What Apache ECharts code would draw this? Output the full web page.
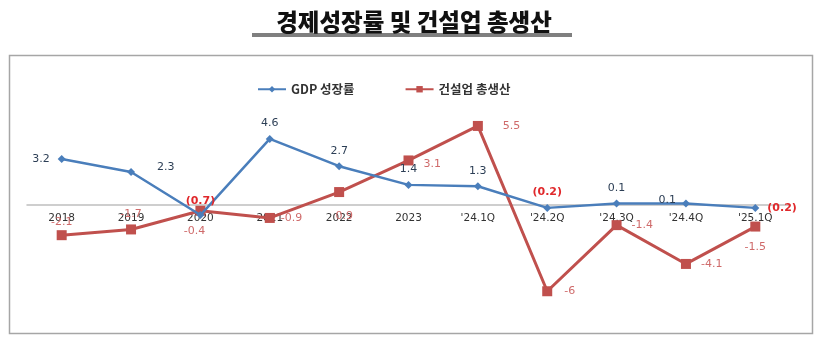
<!DOCTYPE html>
<html><head><meta charset="utf-8">
<script src="https://cdn.jsdelivr.net/npm/echarts@6/dist/echarts.min.js"></script>
<style>html,body{margin:0;padding:0;background:#fff}#c{width:828px;height:338px}</style>
</head><body><div id="c"></div>
<script>
const categories = ['2018','2019','2020','2021','2022','2023',"'24.1Q","'24.2Q","'24.3Q","'24.4Q","'25.1Q"];
const gdpGrowth = [3.2, 2.3, -0.7, 4.6, 2.7, 1.4, 1.3, -0.2, 0.1, 0.1, -0.2];
const construction = [-2.1, -1.7, -0.4, -0.9, 0.9, 3.1, 5.5, -6, -1.4, -4.1, -1.5];
const seriesNames = ['GDP 성장률', '건설업 총생산'];
const titleText = '경제성장률 및 건설업 총생산';

const KR = '"Noto Sans CJK KR", "Noto Sans", sans-serif';
const gdpLabelPlace = [
  {position:'left', distance:8},
  {position:'right', distance:22, offset:[0,-5]},
  {position:'top', distance:4},
  {position:'top', distance:6},
  {position:'top', distance:6},
  {position:'top', distance:6},
  {position:'top', distance:6},
  {position:'top', distance:6},
  {position:'top', distance:6},
  {position:'left', distance:6, offset:[0,-3]},
  {position:'right', distance:8}
];
const conLabelPlace = [
  {position:'top', distance:3},
  {position:'top', distance:5},
  {position:'bottom', distance:10, offset:[-6,0]},
  {position:'right', distance:6},
  {position:'bottom', distance:14, offset:[5,0]},
  {position:'right', distance:10, offset:[0,4]},
  {position:'right', distance:20},
  {position:'right', distance:12},
  {position:'right', distance:10},
  {position:'right', distance:10},
  {position:'bottom', distance:10}
];
const gdpData = gdpGrowth.map((v,i) => {
  const neg = v < 0;
  return {value: v, label: Object.assign({
    formatter: neg ? '(' + Math.abs(v).toFixed(1) + ')' : String(v),
    color: neg ? '#E0282B' : '#2C3E55',
    fontWeight: neg ? 'bold' : 'normal'
  }, gdpLabelPlace[i])};
});
const conData = construction.map((v,i) => ({value: v, label: Object.assign({}, conLabelPlace[i])}));

const chart = echarts.init(document.getElementById('c'));
chart.setOption({
  animation: false,
  title: {text: titleText, left: 'center', top: 5,
    textStyle: {fontFamily: KR, fontSize: 23.5, fontWeight: 900, color: '#111'}},
  graphic: [
    {type:'rect', shape:{x:252, y:33, width:320, height:4}, style:{fill:'#7F7F7F'}, silent:true},
    {type:'rect', shape:{x:9.5, y:55.5, width:803, height:278}, style:{fill:'none', stroke:'#A6A6A6', lineWidth:1.5}, silent:true}
  ],
  legend: {
    top: 78, left: 252, itemGap: 50, itemWidth: 28, itemHeight: 8,
    textStyle: {fontFamily: KR, fontSize: 12.5, fontWeight: 'bold', color: '#333'},
    data: seriesNames
  },
  grid: {left: 27, right: 38, top: 90, height: 230},
  xAxis: {
    type: 'category', data: categories, boundaryGap: true,
    offset: -115,
    axisLine: {show: true, onZero: false, lineStyle: {color: '#BFBFBF', width: 1.5}},
    axisTick: {show: false},
    axisLabel: {fontFamily: '"DejaVu Sans", sans-serif', fontSize: 10.5, color: '#333', margin: 8}
  },
  yAxis: {type: 'value', min: -8, max: 8, show: false, splitLine: {show: false}},
  series: [
    {name: seriesNames[0], type: 'line', data: gdpData, z: 3,
      symbol: 'diamond', symbolSize: 8,
      lineStyle: {color: '#4A7EBB', width: 2.5}, itemStyle: {color: '#4A7EBB'},
      label: {show: true, fontFamily: '"DejaVu Sans", sans-serif', fontSize: 11}},
    {name: seriesNames[1], type: 'line', data: conData, z: 2,
      symbol: 'rect', symbolSize: 10,
      lineStyle: {color: '#C0504D', width: 3}, itemStyle: {color: '#C0504D'},
      label: {show: true, fontFamily: '"DejaVu Sans", sans-serif', fontSize: 11, color: '#CF6A6A'}}
  ]
});
</script></body></html>
